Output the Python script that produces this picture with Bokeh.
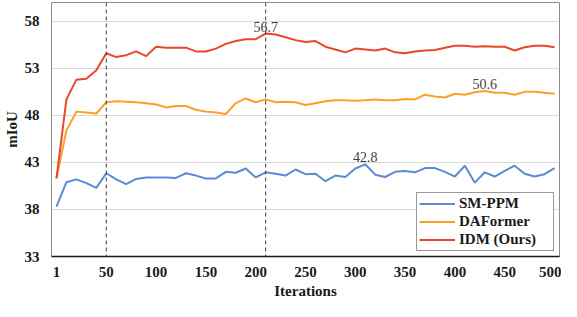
from bokeh.plotting import figure
from bokeh.models import Range1d, FixedTicker, Span, Legend, LegendItem, ColumnDataSource
from bokeh.core.properties import value
from bokeh.embed import file_html
from bokeh.resources import INLINE

iterations = [1, 10, 20, 30, 40, 50, 60, 70, 80, 90, 100, 110, 120, 130, 140, 150,
              160, 170, 180, 190, 200, 210, 220, 230, 240, 250, 260, 270, 280, 290,
              300, 310, 320, 330, 340, 350, 360, 370, 380, 390, 400, 410, 420, 430,
              440, 450, 460, 470, 480, 490, 500]
tick_iters = [1, 50, 100, 150, 200, 250, 300, 350, 400, 450, 500]
marked_iters = [50, 210]

sm_ppm = [38.3, 40.9, 41.2, 40.8, 40.3, 41.85, 41.2, 40.7, 41.25, 41.4, 41.4, 41.4,
          41.35, 41.85, 41.6, 41.3, 41.3, 42.0, 41.9, 42.35, 41.4, 41.95, 41.8, 41.6,
          42.25, 41.75, 41.8, 41.0, 41.6, 41.45, 42.35, 42.8, 41.7, 41.45, 42.0, 42.1,
          41.95, 42.4, 42.4, 42.0, 41.5, 42.65, 40.85, 41.95, 41.5, 42.1, 42.65, 41.8,
          41.5, 41.75, 42.4]
daformer = [41.3, 46.4, 48.4, 48.3, 48.2, 49.4, 49.5, 49.45, 49.4, 49.3, 49.15, 48.85,
            49.0, 49.0, 48.6, 48.4, 48.3, 48.15, 49.3, 49.8, 49.4, 49.7, 49.4, 49.45,
            49.4, 49.1, 49.3, 49.5, 49.6, 49.6, 49.55, 49.6, 49.7, 49.6, 49.6, 49.75,
            49.7, 50.2, 50.0, 49.9, 50.3, 50.2, 50.45, 50.6, 50.4, 50.4, 50.2, 50.5,
            50.5, 50.4, 50.3]
idm = [41.3, 49.7, 51.8, 51.9, 52.8, 54.6, 54.2, 54.4, 54.8, 54.3, 55.3, 55.2, 55.2,
       55.2, 54.8, 54.8, 55.1, 55.6, 55.9, 56.1, 56.1, 56.7, 56.6, 56.3, 56.0, 55.8,
       55.9, 55.3, 55.0, 54.7, 55.1, 55.0, 54.9, 55.1, 54.7, 54.6, 54.8, 54.9, 54.95,
       55.2, 55.4, 55.4, 55.3, 55.35, 55.3, 55.3, 54.9, 55.25, 55.4, 55.4, 55.25]

series_names = ["SM-PPM", "DAFormer", "IDM (Ours)"]
series_values = [sm_ppm, daformer, idm]
series_colors = ["#5b8bd2", "#ff9f2a", "#e9472b"]
y_ticks = [33, 38, 43, 48, 53, 58]

SERIF = "Liberation Serif"
idx = list(range(len(iterations)))

p = figure(width=561, height=301, output_backend="svg", toolbar_location=None,
           x_range=Range1d(-0.5, len(iterations) - 0.5), y_range=Range1d(33, 60),
           min_border_left=42, min_border_right=2, min_border_top=2, min_border_bottom=0)
p.background_fill_color = "white"
p.border_fill_color = "white"
p.outline_line_color = "#8c8c8c"
p.outline_line_width = 1

p.xgrid.visible = False
p.ygrid.grid_line_color = "#d9d9d9"
p.ygrid.grid_line_width = 1

p.xaxis.ticker = FixedTicker(ticks=[iterations.index(t) for t in tick_iters])
p.xaxis.major_label_overrides = {iterations.index(t): str(t) for t in tick_iters}
p.yaxis.ticker = FixedTicker(ticks=y_ticks)

for ax in (p.xaxis[0], p.yaxis[0]):
    ax.major_tick_line_color = None
    ax.minor_tick_line_color = None
    ax.major_tick_out = 0
    ax.major_tick_in = 0
    ax.major_label_text_font = SERIF
    ax.major_label_text_font_style = "bold"
    ax.major_label_text_font_size = "15px"
    ax.major_label_text_color = "#1a1a1a"
    ax.axis_label_text_font = SERIF
    ax.axis_label_text_font_style = "bold"
    ax.axis_label_text_font_size = "15px"
    ax.axis_label_text_color = "#1a1a1a"

p.xaxis.axis_label = "Iterations"
p.xaxis.axis_line_color = "#1a1a1a"
p.xaxis.axis_line_width = 1.5
p.xaxis.major_label_standoff = 10
p.xaxis.axis_label_standoff = 3

p.yaxis.axis_label = "mIoU"
p.yaxis.axis_line_color = "#8c8c8c"
p.yaxis.major_label_standoff = 12
p.yaxis.axis_label_standoff = 2

for it in marked_iters:
    p.add_layout(Span(location=iterations.index(it), dimension="height",
                      line_color="#404040", line_width=1, line_dash="4 3"))

items = []
for name, vals, col in zip(series_names, series_values, series_colors):
    src = ColumnDataSource(dict(x=idx, y=vals))
    r = p.line("x", "y", source=src, line_color=col, line_width=2)
    items.append(LegendItem(label=name, renderers=[r]))
    k = vals.index(max(vals))
    lab = ColumnDataSource(dict(x=[k], y=[vals[k]], t=["%.1f" % vals[k]]))
    p.text("x", "y", text="t", source=lab, text_font=value(SERIF),
           text_font_size="14px", text_color="#404040", text_align="center",
           text_baseline="alphabetic", y_offset=-7)

legend = Legend(items=items, location="bottom_right")
legend.label_text_font = SERIF
legend.label_text_font_style = "bold"
legend.label_text_font_size = "15px"
legend.label_text_color = "#1a1a1a"
legend.border_line_color = "#333333"
legend.border_line_width = 1
legend.background_fill_color = "white"
legend.background_fill_alpha = 1
legend.padding = 2
legend.spacing = 1
legend.glyph_width = 36
legend.glyph_height = 17
legend.label_height = 17
legend.label_standoff = 4
legend.label_width = 92
legend.margin = 5
p.add_layout(legend)

open("out.html", "w").write(file_html(p, INLINE))
